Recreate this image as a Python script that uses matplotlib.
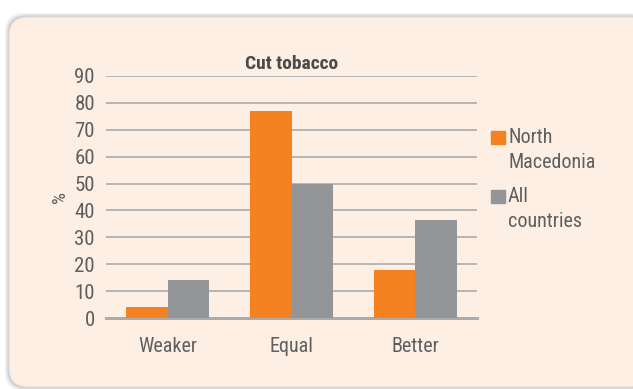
import numpy as np
import matplotlib
matplotlib.use("Agg")
import matplotlib.pyplot as plt
from matplotlib.patches import FancyBboxPatch, Rectangle
from matplotlib import font_manager

categories = ["Weaker", "Equal", "Better"]
north_macedonia = [4, 77, 18]
all_countries = [14, 50, 36.5]
series_names = ["North\nMacedonia", "All\ncountries"]

names = {f.name for f in font_manager.fontManager.ttflist}
fam = "DejaVu Sans"
for cand in ["Roboto Condensed", "Liberation Sans Narrow", "Roboto"]:
    if cand in names:
        fam = cand
        break
plt.rcParams["font.family"] = fam

orange = "#F48221"
grey = "#949599"
panel = "#FDEFE3"
txt = "#5F5F5F"

fig = plt.figure(figsize=(6.33, 3.89), dpi=100)
fig.patch.set_facecolor("white")

# rounded panel with a soft shadow
W, H = 633, 389
for off, a in [(4, 0.05), (2.5, 0.07), (1.2, 0.09)]:
    sh = FancyBboxPatch(((9 - off) / W, (2 - off) / H), (640 + 2 * off) / W, (370 + 2 * off) / H,
                        boxstyle="round,pad=0,rounding_size=0.03", transform=fig.transFigure,
                        fc="#000000", ec="none", alpha=a, zorder=-3, mutation_aspect=W / H)
    fig.patches.append(sh)
box = FancyBboxPatch((9 / W, 2 / H), 640 / W, 370 / H,
                     boxstyle="round,pad=0,rounding_size=0.03", transform=fig.transFigure,
                     fc=panel, ec="#E2DDD8", lw=0.8, zorder=-2, mutation_aspect=W / H)
fig.patches.append(box)

ax = fig.add_axes([106 / W, 1 - 318 / H, (477 - 106) / W, (318 - 76) / H])
ax.set_facecolor("none")

x = np.arange(len(categories))
w = 0.335
ax.bar(x - w / 2, north_macedonia, w, color=orange, zorder=3)
ax.bar(x + w / 2, all_countries, w, color=grey, zorder=3)

ax.set_xlim(-0.5, 2.5)
ax.set_ylim(0, 90)
ax.set_yticks(range(0, 91, 10))
ax.set_xticks(x)
ax.set_xticklabels(categories)
ax.yaxis.grid(True, color="#ABABAB", lw=1.2, zorder=0)
ax.set_axisbelow(True)
for s in ["top", "right", "left"]:
    ax.spines[s].set_visible(False)
ax.spines["bottom"].set_color("#ABABAB")
ax.spines["bottom"].set_linewidth(2.2)
ax.tick_params(axis="both", length=0, colors=txt, labelsize=15)
ax.tick_params(axis="y", pad=8)
ax.tick_params(axis="x", pad=14, labelsize=14.5)

ax.set_ylabel("%", color=txt, fontsize=13.5, labelpad=4)
ax.set_title("Cut tobacco", fontsize=14, fontweight="bold", color="#4A4A4A", pad=5)

# legend: square beside the first line of each label
leg_top = [131, 190]
for col, name, top in zip([orange, grey], series_names, leg_top):
    fig.add_artist(Rectangle((491 / W, 1 - (top + 13) / H), 14 / W, 13 / H,
                             transform=fig.transFigure, color=col))
    fig.text(508 / W, 1 - (top - 3) / H, name, fontsize=14.5, color=txt,
             va="top", ha="left", linespacing=1.4)

fig.savefig("out.png", dpi=100)
